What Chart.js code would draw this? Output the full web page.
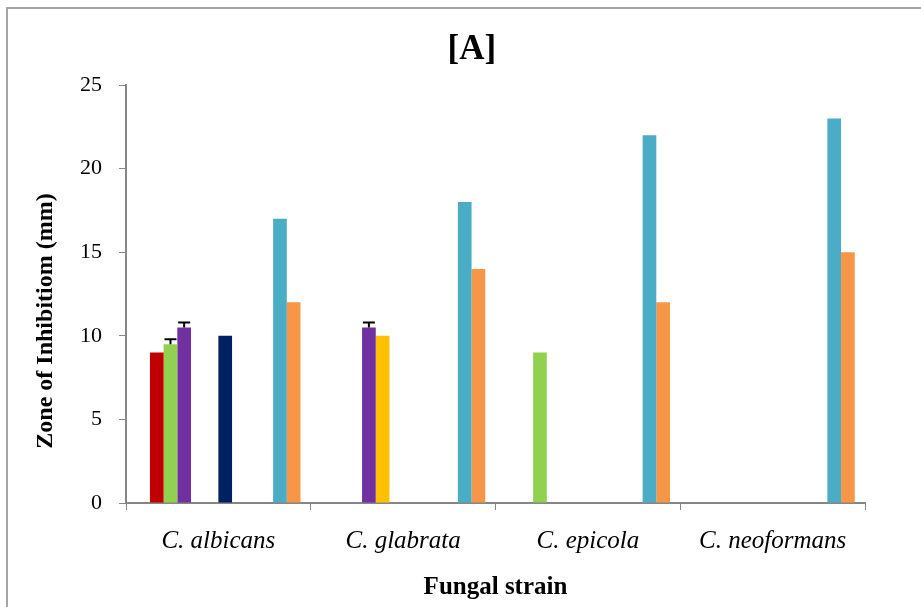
<!DOCTYPE html>
<html>
<head>
<meta charset="utf-8">
<script src="https://cdn.jsdelivr.net/npm/chart.js@4.4.1/dist/chart.umd.min.js"></script>
<style>
    body { margin: 0; background: #ffffff; overflow: hidden; }
    #frame { position: absolute; left: 6px; top: 7px; width: 1000px; height: 700px; border: 2px solid #a6a6a6; }
    #chartCanvas { position: absolute; left: 0; top: 0; }
</style>
</head>
<body>
<div id="frame"></div>
<canvas id="chartCanvas" width="921" height="607"></canvas>
<script>
const categories = ["C. albicans", "C. glabrata", "C. epicola", "C. neoformans"];
const yTicks = [0, 5, 10, 15, 20, 25];

// one array per bar slot, left to right inside each group
const blankA = [null, null, null, null];
const redVals = [9, null, null, null];
const greenVals = [9.5, null, 9, null];
const purpleVals = [10.5, 10.5, null, null];
const yellowVals = [null, 10, null, null];
const blankB = [null, null, null, null];
const navyVals = [10, null, null, null];
const blankC = [null, null, null, null];
const blankD = [null, null, null, null];
const blankE = [null, null, null, null];
const blueVals = [17, 18, 22, 23];
const orangeVals = [12, 14, 12, 15];

const greenErr = [0.3, null, null, null];
const purpleErr = [0.3, 0.3, null, null];

const serif = "'Liberation Serif', 'Times New Roman', serif";
const nb = "\u00a0";

function makeSet(label, data, color, err) {
    return {
        label: label,
        data: data,
        backgroundColor: color,
        borderWidth: 0,
        errors: err
    };
}

const errorBarPlugin = {
    id: 'errorBars',
    afterDatasetsDraw(chart) {
        const ctx = chart.ctx;
        const yScale = chart.scales.y;
        chart.data.datasets.forEach(function (ds, di) {
            if (!ds.errors) return;
            const meta = chart.getDatasetMeta(di);
            meta.data.forEach(function (bar, i) {
                const err = ds.errors[i];
                const val = ds.data[i];
                if (err == null || val == null) return;
                const top = yScale.getPixelForValue(val + err);
                ctx.save();
                ctx.strokeStyle = '#000000';
                ctx.lineWidth = 2;
                ctx.beginPath();
                ctx.moveTo(bar.x, bar.y);
                ctx.lineTo(bar.x, top);
                ctx.moveTo(bar.x - 6, top);
                ctx.lineTo(bar.x + 6, top);
                ctx.stroke();
                ctx.restore();
            });
        });
    }
};

new Chart("chartCanvas", {
    type: "bar",
    data: {
        labels: categories,
        datasets: [
            makeSet("s0", blankA, "#ffffff"),
            makeSet("s1", redVals, "#C00000"),
            makeSet("s2", greenVals, "#92D050", greenErr),
            makeSet("s3", purpleVals, "#7030A0", purpleErr),
            makeSet("s4", yellowVals, "#FFC000"),
            makeSet("s5", blankB, "#ffffff"),
            makeSet("s6", navyVals, "#002060"),
            makeSet("s7", blankC, "#ffffff"),
            makeSet("s8", blankD, "#ffffff"),
            makeSet("s9", blankE, "#ffffff"),
            makeSet("s10", blueVals, "#4BACC6"),
            makeSet("s11", orangeVals, "#F79646")
        ]
    },
    options: {
        responsive: false,
        animation: false,
        devicePixelRatio: 1,
        layout: { padding: { left: 0, right: 56, top: 0, bottom: 0 } },
        datasets: {
            bar: { categoryPercentage: 0.889, barPercentage: 1.0 }
        },
        plugins: {
            legend: { display: false },
            tooltip: { enabled: false },
            title: {
                display: true,
                // leading spaces push the title to the centre of the whole frame
                text: nb.repeat(9) + "[A]",
                color: "#000000",
                font: { family: serif, size: 35, weight: "bold" },
                padding: { top: 29, bottom: 14 }
            }
        },
        scales: {
            x: {
                grid: {
                    display: true,
                    offset: true,
                    drawOnChartArea: false,
                    tickLength: 7,
                    color: "#868686"
                },
                border: { display: true, color: "#868686", width: 2 },
                ticks: {
                    color: "#000000",
                    padding: 16,
                    font: { family: serif, size: 25, style: "italic" }
                },
                title: {
                    display: true,
                    text: "Fungal strain",
                    color: "#000000",
                    font: { family: serif, size: 25, weight: "bold" },
                    padding: { top: 0, bottom: 4 }
                },
                afterFit: function (scale) { scale.height = 104; }
            },
            y: {
                min: 0,
                max: 25,
                grid: {
                    display: true,
                    drawOnChartArea: false,
                    tickLength: 7,
                    color: "#868686"
                },
                border: { display: true, color: "#868686", width: 2 },
                afterBuildTicks: function (scale) {
                    scale.ticks = yTicks.map(function (v) { return { value: v }; });
                },
                ticks: {
                    color: "#000000",
                    padding: 17,
                    font: { family: serif, size: 22 }
                },
                title: {
                    display: true,
                    // trailing spaces move the label down, as in the original
                    text: "Zone of Inhibitiom (mm)" + nb.repeat(9),
                    color: "#000000",
                    font: { family: serif, size: 24, weight: "bold" },
                    padding: { top: 31, bottom: 0 }
                },
                afterFit: function (scale) { scale.width = 126; }
            }
        }
    },
    plugins: [errorBarPlugin]
});
</script>
</body>
</html>
